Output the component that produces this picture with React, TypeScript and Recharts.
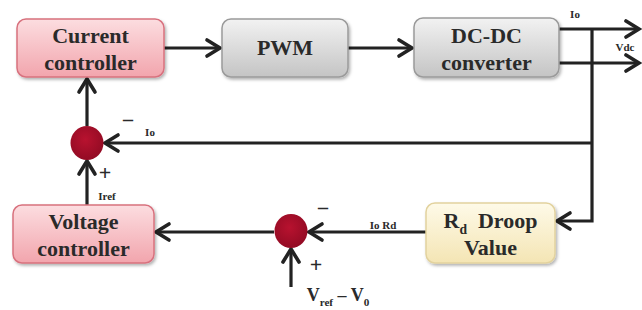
import React from 'react';
import { ScatterChart, Scatter, XAxis, YAxis } from 'recharts';

// blocks of the droop control loop
const blockIds = ['current', 'pwm', 'dcdc', 'voltage', 'droop'];
const blockLines = [
  ['Current', 'controller'],
  ['PWM'],
  ['DC-DC', 'converter'],
  ['Voltage', 'controller'],
  ['R_d  Droop', 'Value'],
];
const blockX = [90.5, 285, 486.5, 83.5, 490.5];
const blockY = [48, 48, 47.5, 234, 233];

// summing junctions
const junctionX = [87, 291];
const junctionY = [143, 231];

// signal paths, each ends in an arrow
const wires: number[][][] = [
  [[164, 48], [220, 48]],
  [[348, 48], [412, 48]],
  [[559, 29], [639, 29]],
  [[559, 63], [639, 63]],
  [[592, 29], [592, 221], [557, 221]],
  [[592, 143], [105, 143]],
  [[87, 126], [87, 79]],
  [[87, 205], [87, 161]],
  [[426, 232], [309, 232]],
  [[274, 232], [156, 232]],
  [[291, 287], [291, 249]],
];

// annotations
const noteText = ['Io', 'Vdc', '–', 'Io', '+', 'Iref', '–', 'Io Rd', '+', 'V_ref – V_0'];
const noteX = [575, 625, 128, 150, 105, 107, 323, 383, 316, 338];
const noteY = [18, 51, 126, 136, 180, 200, 214, 229, 272, 301];

const noteSize = [11, 11, 20, 11, 22, 11, 20, 11, 22, 18];

const blockSize: Record<string, [number, number]> = {
  current: [147, 58],
  pwm: [126, 58],
  dcdc: [145, 59],
  voltage: [141, 58],
  droop: [129, 60],
};

const themes: Record<string, { top: string; bottom: string; border: string }> = {
  pink: { top: '#fcdde0', bottom: '#f2a5ad', border: '#d8717e' },
  gray: { top: '#f2f2f2', bottom: '#c4c4c4', border: '#9a9a9a' },
  cream: { top: '#fefae8', bottom: '#f4e5b4', border: '#e2d29e' },
};
const blockTheme: Record<string, string> = {
  current: 'pink',
  pwm: 'gray',
  dcdc: 'gray',
  voltage: 'pink',
  droop: 'cream',
};

const FONT = "'Liberation Serif', 'DejaVu Serif', serif";
const INK = '#222';

const blocks = blockIds.map((id, i) => ({ id, lines: blockLines[i], x: blockX[i], y: blockY[i] }));
const junctions = junctionX.map((x, i) => ({ x, y: junctionY[i] }));
const notes = noteText.map((text, i) => ({ text, x: noteX[i], y: noteY[i], size: noteSize[i] }));

// "R_d" -> R with subscript d
const RichText = ({ text, size }: { text: string; size: number }) => {
  const parts = text.split(/(_\w+)/).filter((p) => p !== '');
  let shifted = false;
  return (
    <>
      {parts.map((p, i) => {
        if (p.startsWith('_')) {
          shifted = true;
          return (
            <tspan key={i} dy={size * 0.25} fontSize={size * 0.62}>
              {p.slice(1)}
            </tspan>
          );
        }
        const dy = shifted ? -size * 0.25 : 0;
        shifted = false;
        return (
          <tspan key={i} dy={dy} fontSize={size}>
            {p}
          </tspan>
        );
      })}
    </>
  );
};

const BlockShape = (props: any) => {
  const { cx, cy, payload } = props;
  const [w, h] = blockSize[payload.id];
  const t = themes[blockTheme[payload.id]];
  const gid = `grad-${payload.id}`;
  const sid = `shadow-${payload.id}`;
  const lines: string[] = payload.lines;
  const base = lines.length === 1 ? [7] : [-5, 22];
  return (
    <g>
      <defs>
        <linearGradient id={gid} x1="0" y1="0" x2="0" y2="1">
          <stop offset="0%" stopColor={t.top} />
          <stop offset="100%" stopColor={t.bottom} />
        </linearGradient>
        <filter id={sid} x="-10%" y="-10%" width="125%" height="130%">
          <feDropShadow dx="1.5" dy="2" stdDeviation="1.8" floodColor="#000" floodOpacity="0.3" />
        </filter>
      </defs>
      <rect
        x={cx - w / 2}
        y={cy - h / 2}
        width={w}
        height={h}
        rx={9}
        fill={`url(#${gid})`}
        stroke={t.border}
        strokeWidth={1.5}
        filter={`url(#${sid})`}
      />
      {lines.map((line, i) => (
        <text
          key={i}
          x={cx}
          y={cy + base[i]}
          textAnchor="middle"
          fontFamily={FONT}
          fontWeight="bold"
          fill="#2a2a2a"
          style={{ whiteSpace: 'pre' }}
        >
          <RichText text={line} size={22} />
        </text>
      ))}
    </g>
  );
};

const JunctionShape = (props: any) => {
  const { cx, cy, index } = props;
  const gid = `junc-${index}`;
  return (
    <g>
      <defs>
        <radialGradient id={gid} cx="45%" cy="40%" r="60%">
          <stop offset="0%" stopColor="#b8122f" />
          <stop offset="100%" stopColor="#930b24" />
        </radialGradient>
      </defs>
      <ellipse cx={cx} cy={cy} rx={16.5} ry={17} fill={`url(#${gid})`} />
    </g>
  );
};

const NoteShape = (props: any) => {
  const { cx, cy, payload } = props;
  return (
    <text
      x={cx}
      y={cy}
      textAnchor="middle"
      fontFamily={FONT}
      fontWeight="bold"
      fill="#2a2a2a"
    >
      <RichText text={payload.text} size={payload.size} />
    </text>
  );
};

const Empty = () => <g />;

const ArrowLine = (props: any) => {
  const pts: { x: number; y: number }[] = props.points || [];
  if (pts.length < 2) return <g />;
  const d = pts.map((p, i) => `${i === 0 ? 'M' : 'L'}${p.x},${p.y}`).join(' ');
  const a = pts[pts.length - 2];
  const b = pts[pts.length - 1];
  const len = Math.hypot(b.x - a.x, b.y - a.y) || 1;
  const ux = (b.x - a.x) / len;
  const uy = (b.y - a.y) / len;
  const L = 13;
  const W = 8;
  const head = `M${b.x - ux * L - uy * W},${b.y - uy * L + ux * W} L${b.x},${b.y} L${b.x - ux * L + uy * W},${b.y - uy * L - ux * W}`;
  return (
    <g>
      <path d={d} fill="none" stroke={INK} strokeWidth={3.2} strokeLinejoin="miter" />
      <path d={head} fill="none" stroke={INK} strokeWidth={3.6} strokeLinejoin="miter" strokeLinecap="round" />
    </g>
  );
};

export default function App() {
  return (
    <div style={{ position: 'absolute', left: 0, top: 0, width: 642, height: 310, background: '#fff' }}>
      <ScatterChart width={642} height={310} margin={{ top: 0, right: 0, bottom: 0, left: 0 }}>
        <XAxis type="number" dataKey="x" domain={[0, 642]} hide allowDataOverflow />
        <YAxis type="number" dataKey="y" domain={[0, 310]} reversed hide allowDataOverflow />
        {wires.map((w, i) => (
          <Scatter
            key={`wire-${i}`}
            data={w.map(([x, y]) => ({ x, y }))}
            line={ArrowLine}
            lineType="joint"
            shape={Empty}
            isAnimationActive={false}
          />
        ))}
        <Scatter data={blocks} shape={BlockShape} isAnimationActive={false} />
        <Scatter data={junctions} shape={JunctionShape} isAnimationActive={false} />
        <Scatter data={notes} shape={NoteShape} isAnimationActive={false} />
      </ScatterChart>
    </div>
  );
}
